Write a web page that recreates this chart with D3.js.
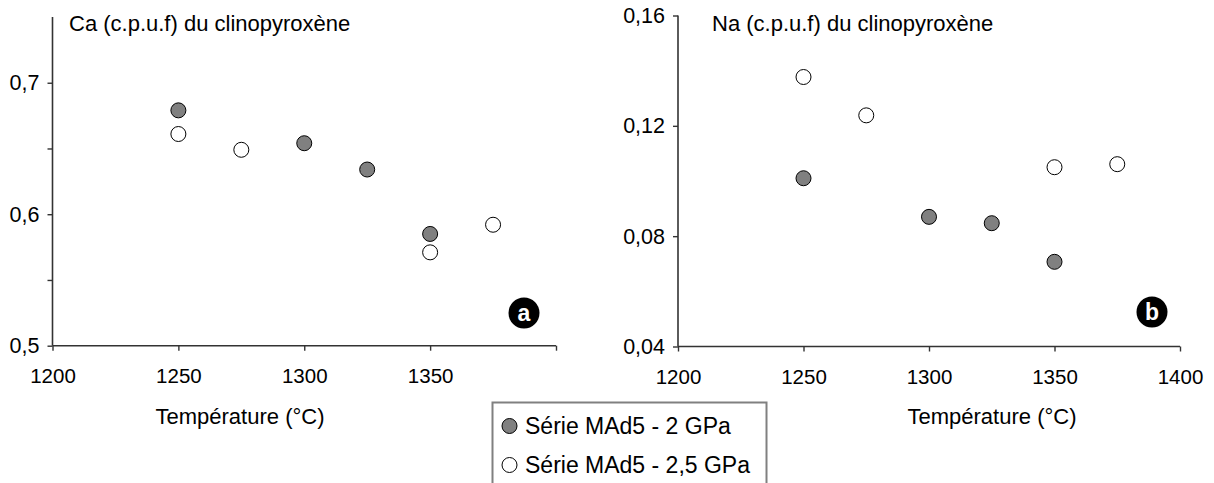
<!DOCTYPE html>
<html>
<head>
<meta charset="utf-8">
<script src="https://cdn.jsdelivr.net/npm/d3@7"></script>
<style>
  html, body { margin: 0; padding: 0; background: #fff; }
  svg { display: block; font-family: "Liberation Sans", Arial, sans-serif; }
</style>
</head>
<body>
<svg id="chart" width="1214" height="483"></svg>
<script>
// ---- data ----
const temps2GPa = [1250, 1300, 1325, 1350];
const ca2GPa = [0.679, 0.654, 0.634, 0.585];
const na2GPa = [0.101, 0.087, 0.0847, 0.0707];

const temps25GPa = [1250, 1275, 1350, 1375];
const ca25GPa = [0.661, 0.649, 0.571, 0.592];
const na25GPa = [0.1377, 0.1238, 0.105, 0.1061];

const xTicks = [1200, 1250, 1300, 1350, 1400];
const caTicks = [0.5, 0.55, 0.6, 0.65, 0.7];
const caLabelled = [0.5, 0.6, 0.7];
const naTicks = [0.04, 0.08, 0.12, 0.16];

const titleCa = "Ca (c.p.u.f) du clinopyroxène";
const titleNa = "Na (c.p.u.f) du clinopyroxène";
const xTitle = "Température (°C)";
const legendLabels = ["Série MAd5 - 2 GPa", "Série MAd5 - 2,5 GPa"];

const svg = d3.select("#chart");
const axisColor = "#333";
const fmt = v => String(v).replace(".", ",");

function panel(opts) {
  const g = svg.append("g");
  const x = d3.scaleLinear().domain([1200, 1400]).range(opts.xRange);
  const y = d3.scaleLinear().domain(opts.yDomain).range(opts.yRange);

  const xa = g.append("g").attr("transform", `translate(0,${opts.yRange[0]})`)
    .call(d3.axisBottom(x).tickValues(xTicks).tickSize(5).tickPadding(18)
      .tickFormat(d => opts.xLabelled.includes(d) ? d : ""));
  const ya = g.append("g").attr("transform", `translate(${opts.xRange[0]},0)`)
    .call(d3.axisLeft(y).tickValues(opts.yTicks).tickSize(5).tickPadding(8)
      .tickFormat(d => opts.yLabelled.includes(d) ? fmt(d) : ""));
  [xa, ya].forEach(a => {
    a.select(".domain").attr("stroke", axisColor).attr("stroke-width", 1.6);
    a.selectAll(".tick line").attr("stroke", axisColor).attr("stroke-width", 1.4);
    a.selectAll(".tick text").attr("fill", "#000");
  });
  xa.selectAll(".tick text").style("font-size", "20.5px");
  ya.selectAll(".tick text").style("font-size", "21.5px");
  xa.select(".domain").attr("d", `M${opts.xRange[0]},0H${opts.xRange[1]}`);
  ya.select(".domain").attr("d", `M0,${opts.yRange[0]}V${opts.yRange[1]}`);

  g.append("text").attr("x", opts.titleX).attr("y", 31).text(opts.title)
    .style("font-size", "22px").attr("fill", "#000");
  g.append("text").attr("x", opts.xTitleX).attr("y", 424).attr("text-anchor", "middle")
    .text(xTitle).style("font-size", "22px").attr("fill", "#000");

  const s2 = temps2GPa.map((t, i) => [t, opts.v2[i]]);
  const s25 = temps25GPa.map((t, i) => [t, opts.v25[i]]);
  g.selectAll(".p2").data(s2).join("circle")
    .attr("cx", d => x(d[0])).attr("cy", d => y(d[1])).attr("r", 7.5)
    .attr("fill", "#808080").attr("stroke", "#000").attr("stroke-width", 1);
  g.selectAll(".p25").data(s25).join("circle")
    .attr("cx", d => x(d[0])).attr("cy", d => y(d[1])).attr("r", 7.5)
    .attr("fill", "#fff").attr("stroke", "#000").attr("stroke-width", 1);

  g.append("circle").attr("cx", opts.letterPos[0]).attr("cy", opts.letterPos[1]).attr("r", 15.5).attr("fill", "#000");
  g.append("text").attr("x", opts.letterPos[0]).attr("y", opts.letterPos[1] + 8)
    .attr("text-anchor", "middle").text(opts.letter)
    .style("font-size", "23px").style("font-weight", "bold").attr("fill", "#fff");
}

panel({
  xRange: [52.5, 556], yDomain: [0.5, 0.75], yRange: [345.7, 17],
  yTicks: caTicks, yLabelled: caLabelled, xLabelled: [1200, 1250, 1300, 1350],
  title: titleCa, titleX: 69, xTitleX: 240, v2: ca2GPa, v25: ca25GPa,
  letter: "a", letterPos: [524, 313]
});
panel({
  xRange: [678, 1180], yDomain: [0.04, 0.16], yRange: [346.5, 15.5],
  yTicks: naTicks, yLabelled: naTicks, xLabelled: xTicks,
  title: titleNa, titleX: 712, xTitleX: 992, v2: na2GPa, v25: na25GPa,
  letter: "b", letterPos: [1152, 312]
});

// legend
const lg = svg.append("g");
lg.append("rect").attr("x", 492.5).attr("y", 402.5).attr("width", 274).attr("height", 100)
  .attr("fill", "#fff").attr("stroke", "#808080").attr("stroke-width", 2);
const legFills = ["#808080", "#fff"];
const legY = [426, 465];
legendLabels.forEach((lab, i) => {
  lg.append("circle").attr("cx", 509.5).attr("cy", legY[i]).attr("r", 7.5)
    .attr("fill", legFills[i]).attr("stroke", "#000").attr("stroke-width", 1);
  lg.append("text").attr("x", 525).attr("y", legY[i] + 8).text(lab)
    .style("font-size", "23px").attr("fill", "#000");
});
</script>
</body>
</html>
